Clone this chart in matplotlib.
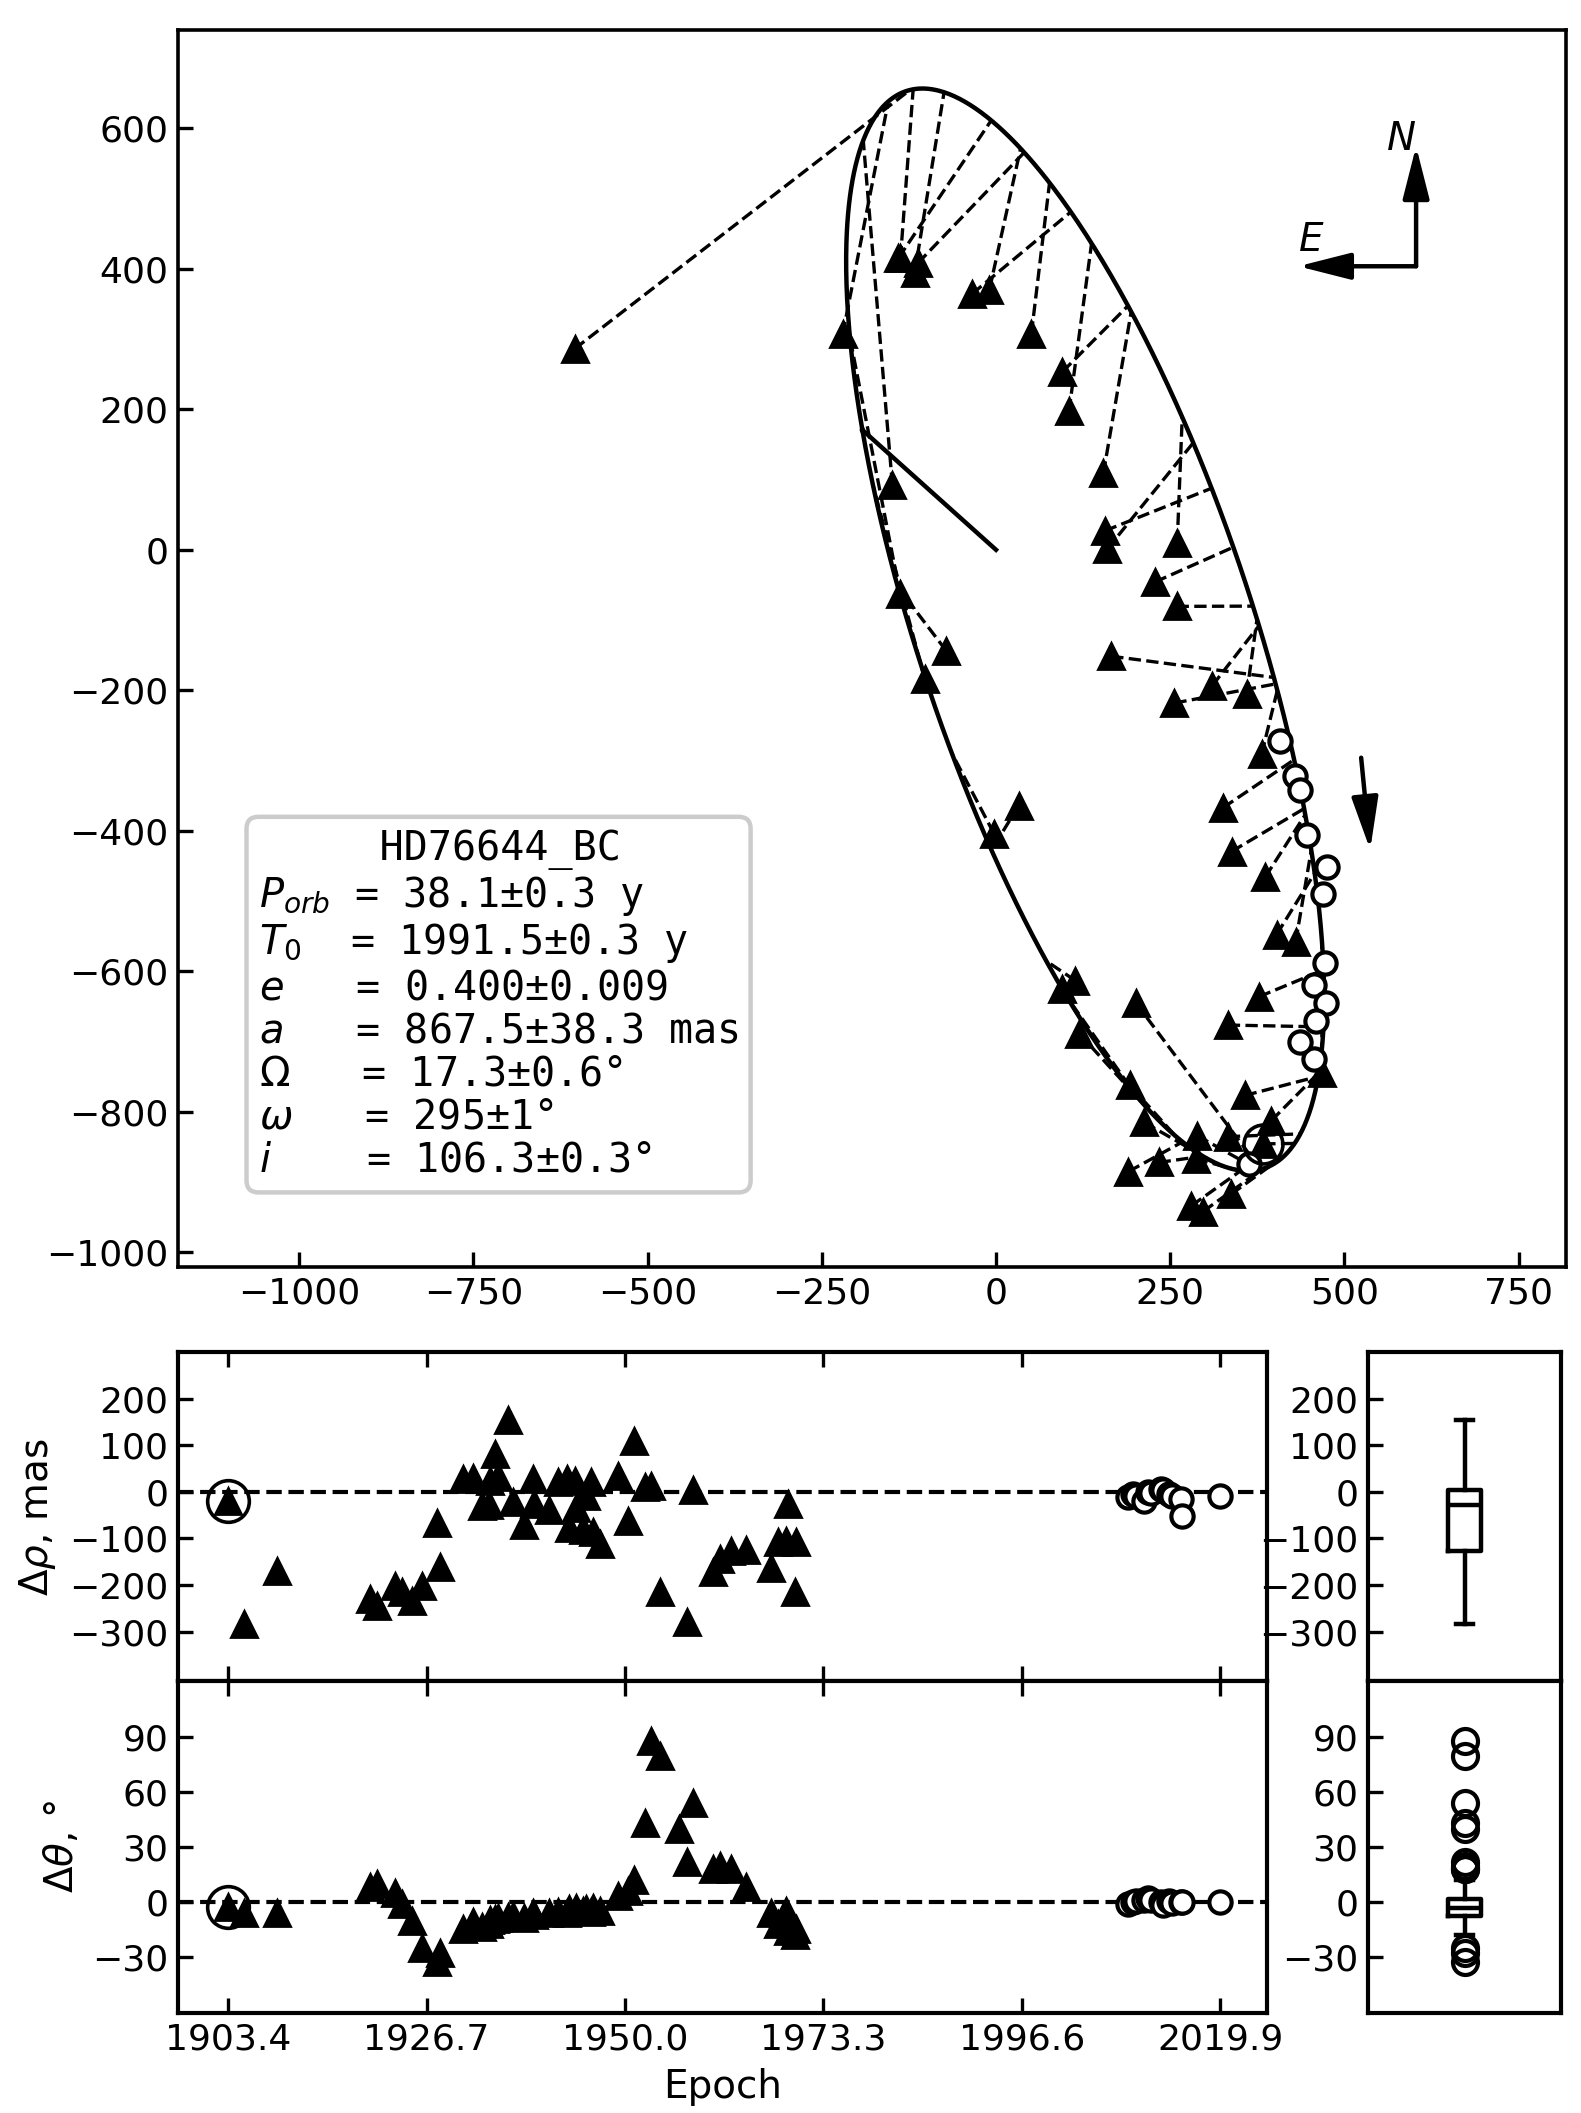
import numpy as np
import matplotlib
matplotlib.use('Agg')
import matplotlib.pyplot as plt

# orbital elements (text box)
P_orb = 38.1
T0 = 1991.5
ecc = 0.400
a_mas = 867.5
Omega = 17.3
omega = 295.0
inc = 106.3

# micrometer measurements: epoch, O-C rho (mas), O-C theta (deg)
vis_epoch = [1903.4, 1905.2, 1909.1, 1920.0, 1920.9, 1923.0, 1923.8, 1925.0, 1926.2, 1927.9,
             1928.3, 1931.0, 1932.1, 1933.2, 1934.0, 1934.1, 1934.7, 1935.1, 1936.3, 1936.9,
             1938.1, 1939.2, 1939.3, 1941.1, 1942.1, 1943.2, 1943.4, 1944.1, 1944.3, 1945.1,
             1945.4, 1946.0, 1946.2, 1947.1, 1949.2, 1950.3, 1951.1, 1952.3, 1953.0, 1954.1,
             1956.3, 1957.3, 1958.0, 1960.3, 1961.2, 1962.5, 1964.2, 1967.1, 1968.0, 1968.9,
             1969.2, 1970.0, 1970.1]
vis_drho = [-19, -284, -171, -229, -245, -202, -216, -234, -202, -67,
            -162, 27, 29, -31, -29, 23, 82, 31, 154, -21,
            -72, 27, -26, -40, 21, 27, -77, 24, -34, -82,
            -10, 21, -87, -113, 34, -62, 108, 10, 12, -216,
            -438, -279, 3, -173, -144, -127, -125, -163, -108, -106,
            -27, -214, -108]
vis_dtheta = [-2.5, -6, -6, 8, 10, 5, -1, -10.5, -25, -33,
              -28, -15, -11, -13.5, -12, -10, -9, -8.5, -8, -7.5,
              -8.5, -6, -7, -6, -5.5, -6, -4, -5, -3, -5,
              -4, -5.5, -3, -5, 3.5, 6, 12, 43, 88, 80,
              40, 22, 54, 18, 19.5, 18, 8, -6, -12, -5,
              -16, -18, -15]

# speckle measurements
spk_epoch = [2009.1, 2009.7, 2010.0, 2010.9, 2011.4, 2011.8, 2012.9, 2013.2, 2013.9, 2014.2,
             2015.3, 2015.4, 2019.9]
spk_drho = [-12, -5, -8, -19, 0, -3, 5, 3, -5, -8, -16, -51, -10]
spk_dtheta = [-1, 0, 0.5, 1, 2, 1, 0, -1.5, 0.5, -0.5, 0, 0, 0]

rho_ticks = [-300, -200, -100, 0, 100, 200]
theta_ticks = [-30, 0, 30, 60, 90]

# Thiele-Innes constants
w, W, i_ = np.radians(omega), np.radians(Omega), np.radians(inc)
A = a_mas * (np.cos(w) * np.cos(W) - np.sin(w) * np.sin(W) * np.cos(i_))
B = a_mas * (np.cos(w) * np.sin(W) + np.sin(w) * np.cos(W) * np.cos(i_))
F = a_mas * (-np.sin(w) * np.cos(W) - np.cos(w) * np.sin(W) * np.cos(i_))
G = a_mas * (-np.sin(w) * np.sin(W) + np.cos(w) * np.cos(W) * np.cos(i_))


def pos_from_E(E):
    X = np.cos(E) - ecc
    Y = np.sqrt(1 - ecc ** 2) * np.sin(E)
    north = A * X + F * Y
    east = B * X + G * Y
    return -east, north


def pos_at(t):
    M = 2 * np.pi * (np.asarray(t, float) - T0) / P_orb
    E = M.copy()
    for _ in range(40):
        E = E - (E - ecc * np.sin(E) - M) / (1 - ecc * np.cos(E))
    return pos_from_E(E)


def observed(t, drho, dth):
    xc, yc = pos_at(t)
    rho = np.hypot(xc, yc) + np.asarray(drho, float)
    th = np.arctan2(-xc, yc) + np.radians(dth)
    return -rho * np.sin(th), rho * np.cos(th), xc, yc


vx, vy, vxc, vyc = observed(vis_epoch, vis_drho, vis_dtheta)
sx, sy, sxc, syc = observed(spk_epoch, spk_drho, spk_dtheta)

Wpx, Hpx = 1581, 2113
plt.rcParams['axes.linewidth'] = 1.3
fig = plt.figure(figsize=(Wpx / 200, Hpx / 200), dpi=200)


def frac(l, t, r, b):
    return [l / Wpx, 1 - b / Hpx, (r - l) / Wpx, (b - t) / Hpx]


ax = fig.add_axes(frac(178, 30, 1566, 1267))
ex, ey = pos_from_E(np.linspace(0, 2 * np.pi, 721))
ax.plot(ex, ey, 'k-', lw=1.6, zorder=2)
px, py = pos_from_E(0.0)
ax.plot([0, px], [0, py], 'k-', lw=1.6, zorder=2)
for x0, y0, x1, y1 in zip(vx, vy, vxc, vyc):
    ax.plot([x0, x1], [y0, y1], 'k--', lw=1.2, zorder=1)
for x0, y0, x1, y1 in zip(sx, sy, sxc, syc):
    ax.plot([x0, x1], [y0, y1], 'k--', lw=1.2, zorder=1)
ax.plot(vx, vy, 'k^', ms=9.5, zorder=3)
ax.plot(sx, sy, 'o', ms=8, mfc='white', mec='k', mew=1.5, zorder=4)
ax.plot(vx[0], vy[0], 'o', ms=14, mfc='none', mec='k', mew=1.3, zorder=5)
ax.set_xlim(-1174, 818)
ax.set_ylim(-1021, 740)
ax.set_xticks([-1000, -750, -500, -250, 0, 250, 500, 750])
ax.set_yticks([-1000, -800, -600, -400, -200, 0, 200, 400, 600])
ax.tick_params(direction='in', length=5.5, width=1.2, labelsize=13)

ap = dict(arrowstyle='-|>,head_length=0.67,head_width=0.17', lw=1.6, color='k',
          mutation_scale=24, shrinkA=0, shrinkB=0)
ax.annotate('', xy=(0.892, 0.906), xytext=(0.892, 0.809), xycoords='axes fraction', arrowprops=ap)
ax.annotate('', xy=(0.807, 0.809), xytext=(0.892, 0.809), xycoords='axes fraction', arrowprops=ap)
ax.text(0.8816, 0.912, 'N', transform=ax.transAxes, style='italic', fontsize=14, ha='center', va='center')
ax.text(0.8165, 0.830, 'E', transform=ax.transAxes, style='italic', fontsize=14, ha='center', va='center')
ax.annotate('', xy=(537, -427), xytext=(524, -296), arrowprops=ap)

info = ("     HD76644_BC\n"
        "$P_{orb}$ = 38.1±0.3 y\n"
        "$T_0$  = 1991.5±0.3 y\n"
        "$e$   = 0.400±0.009\n"
        "$a$   = 867.5±38.3 mas\n"
        "$\\Omega$   = 17.3±0.6°\n"
        "$\\omega$   = 295±1°\n"
        "$i$    = 106.3±0.3°")
ax.text(0.058, 0.070, info, transform=ax.transAxes, family='DejaVu Sans Mono', fontsize=14.4,
        va='bottom', ha='left', linespacing=1.1,
        bbox=dict(boxstyle='round,pad=0.3', fc='white', ec='0.8', lw=1.6))

# residual panels
ax_r = fig.add_axes(frac(178, 1352, 1267, 1681))
ax_t = fig.add_axes(frac(178, 1681, 1267, 2013))
br = fig.add_axes(frac(1368, 1352, 1561, 1681))
bt = fig.add_axes(frac(1368, 1681, 1561, 2013))

etick = np.linspace(vis_epoch[0], spk_epoch[-1], 6)
for a_, vres, sres, lim, ticks in [(ax_r, vis_drho, spk_drho, (-406, 300), rho_ticks),
                                   (ax_t, vis_dtheta, spk_dtheta, (-60.6, 120.7), theta_ticks)]:
    a_.axhline(0, color='k', ls='--', lw=1.5, zorder=1)
    a_.plot(vis_epoch, vres, 'k^', ms=9.5, zorder=3)
    a_.plot(spk_epoch, sres, 'o', ms=8, mfc='white', mec='k', mew=1.5, zorder=4)
    a_.plot(vis_epoch[0], vres[0], 'o', ms=15, mfc='none', mec='k', mew=1.3, zorder=5)
    a_.set_xlim(1897.5, 2025.4)
    a_.set_ylim(*lim)
    a_.set_yticks(ticks)
    a_.set_xticks(etick)
    a_.set_xticklabels(['%.1f' % v for v in etick])
    a_.tick_params(direction='in', length=5.5, width=1.2, labelsize=13, top=True)
    for s in a_.spines.values():
        s.set_linewidth(1.5)
ax_r.tick_params(labelbottom=False)
ax_r.set_ylabel(r'$\Delta\rho$, mas', fontsize=14)
ax_t.set_ylabel(r'$\Delta\theta$, °', fontsize=14)
ax_t.set_xlabel('Epoch', fontsize=14)

bp_style = dict(widths=0.17, patch_artist=False,
                boxprops=dict(color='k', lw=1.6), whiskerprops=dict(color='k', lw=1.6),
                capprops=dict(color='k', lw=1.6), medianprops=dict(color='k', lw=1.6),
                flierprops=dict(marker='o', ms=9, mfc='none', mec='k', mew=1.5))
for b_, vres, sres, lim, ticks in [(br, vis_drho, spk_drho, (-406, 300), rho_ticks),
                                   (bt, vis_dtheta, spk_dtheta, (-60.6, 120.7), theta_ticks)]:
    b_.boxplot(list(vres) + list(sres), **bp_style)
    b_.set_xlim(0.5, 1.5)
    b_.set_ylim(*lim)
    b_.set_yticks(ticks)
    b_.set_xticks([])
    b_.tick_params(direction='in', length=5.5, width=1.2, labelsize=13)
    for s in b_.spines.values():
        s.set_linewidth(1.5)

fig.savefig('out.png', dpi=200)
